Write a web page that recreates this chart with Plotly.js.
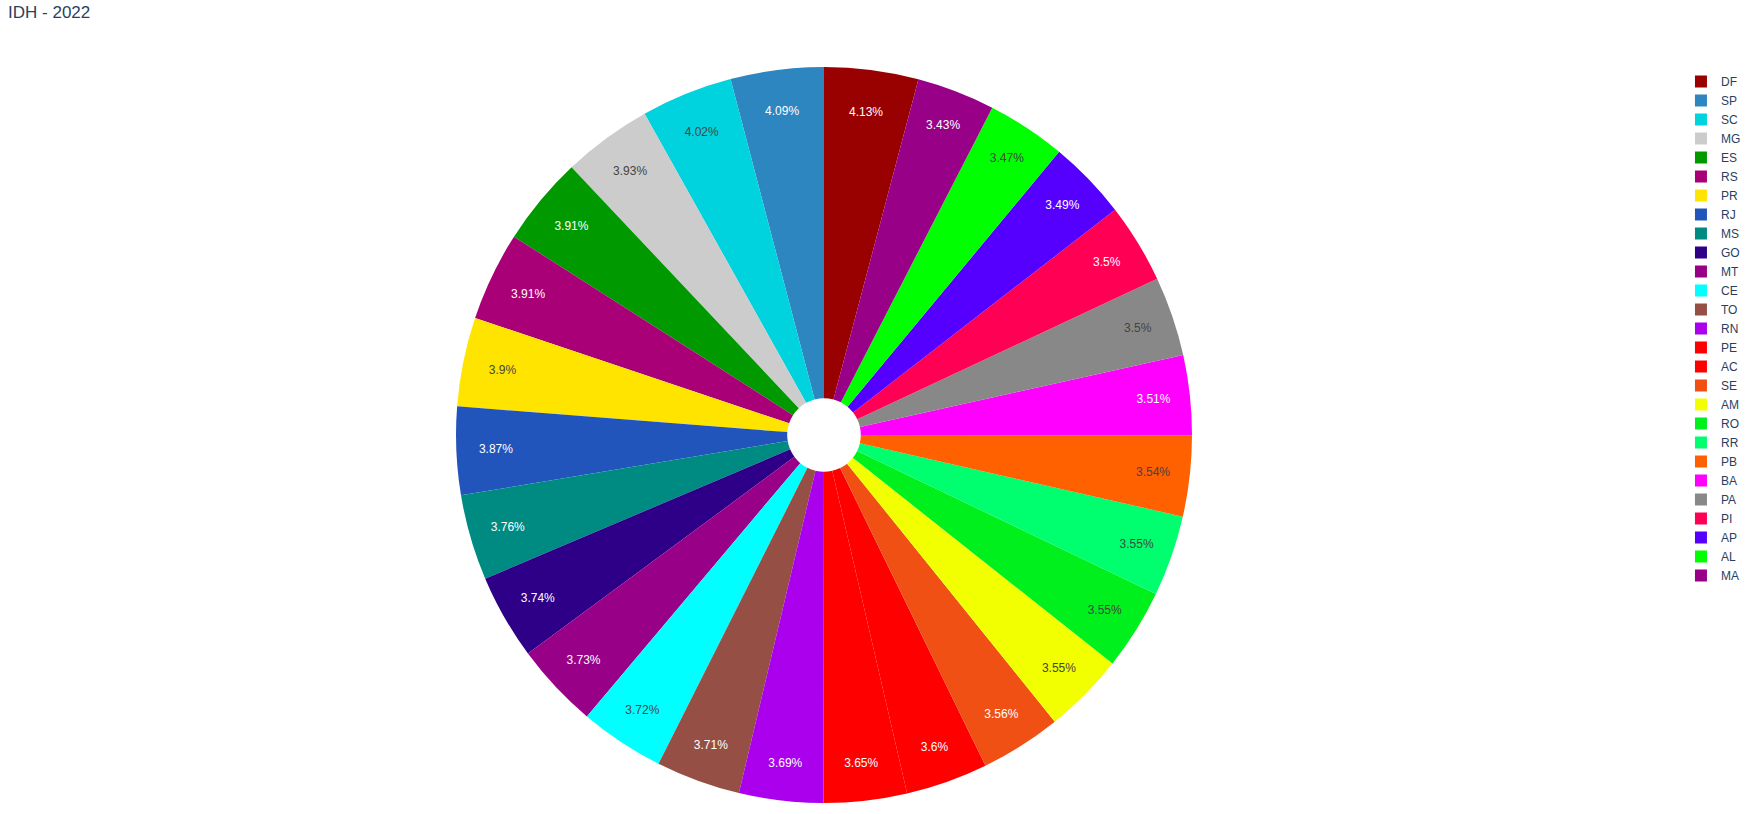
<!DOCTYPE html>
<html>
<head>
<meta charset="utf-8">
<script src="https://cdn.plot.ly/plotly-3.0.1.min.js"></script>
<style>
  html, body { margin: 0; padding: 0; background: #fff; }
  #chart { width: 1756px; height: 814px; }
</style>
</head>
<body>
<div id="chart"></div>
<script>
// estados, ordenados como na legenda
var estados = ["DF", "SP", "SC", "MG", "ES", "RS", "PR", "RJ", "MS", "GO", "MT", "CE", "TO", "RN",
  "PE", "AC", "SE", "AM", "RO", "RR", "PB", "BA", "PA", "PI", "AP", "AL", "MA"]

// IDH por estado (as fatias mostram a participação %)
var idh = [0.814, 0.806, 0.792, 0.774, 0.771, 0.771, 0.769, 0.762, 0.742, 0.737, 0.736, 0.734, 0.731, 0.728,
  0.719, 0.710, 0.702, 0.700, 0.700, 0.699, 0.698, 0.691, 0.690, 0.690, 0.688, 0.684, 0.676]

var cores = ["#990000", "#2E86C1", "#00D2DE", "#CCCCCC", "#009900", "#AA0077", "#FFE400", "#2255BB",
  "#008B82", "#2E0088", "#990088", "#00FFFF", "#964F44", "#AA00EE", "#FF0000", "#FF0000", "#F05014",
  "#F2FF00", "#00F01E", "#00FF6E", "#FF6000", "#FF00FF", "#888888", "#FF0055", "#5500FF", "#00FF00",
  "#990088"]

var data = [
  {
    type: "pie",
    labels: estados,
    values: idh,
    hole: 0.1,
    textinfo: "percent",
    marker: { colors: cores },
  },
]

var layout = {
  width: 1756,
  height: 814,
  font: { family: "Arial, sans-serif", size: 12, color: "#2a3f5f" },
  title: {
    text: "IDH - 2022",
    font: { size: 17, color: "#2a3f5f" },
    xref: "container",
    yref: "container",
    x: 0.0046,
    xanchor: "left",
    y: 0.985,
    yanchor: "middle",
  },
  margin: { t: 67, r: 108, l: 0, b: 11 },
  paper_bgcolor: "#fff",
  legend: { font: { size: 12, color: "#2a3f5f" } },
}
Plotly.newPlot("chart", data, layout, { displayModeBar: false })
</script>
</body>
</html>
